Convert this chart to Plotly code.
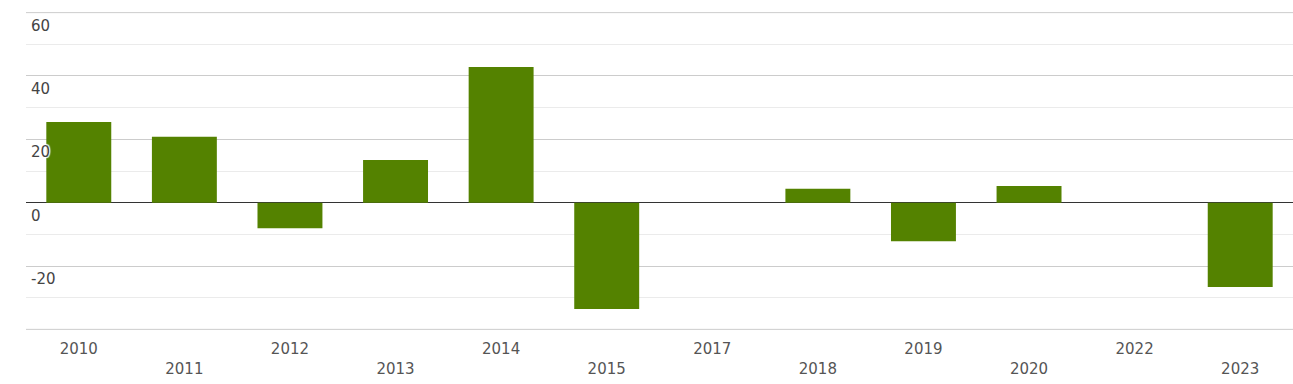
import plotly.graph_objects as go

years = ["2010", "2011", "2012", "2013", "2014", "2015", "2017", "2018", "2019", "2020", "2022", "2023"]
values = [25.5, 20.8, -8.1, 13.5, 42.8, -33.6, None, 4.4, -12.2, 5.3, None, -26.6]
y_ticks = [-20, 0, 20, 40, 60]
y_min, y_max = -40, 60

ticktext = [y if i % 2 == 0 else "<br>" + y for i, y in enumerate(years)]

fig = go.Figure()
fig.add_trace(go.Bar(x=years, y=values, marker=dict(color="#548200", line=dict(width=0)),
                     width=0.615))

for t in y_ticks:
    fig.add_annotation(x=0, xref="paper", y=t, yref="y", text=str(t), showarrow=False,
                       xanchor="left", yanchor="middle", xshift=3, yshift=-13,
                       font=dict(family="DejaVu Sans", size=15, color="#444444",
                                 shadow="1px 1px 1px white, -1px -1px 1px white, 1px -1px 1px white, -1px 1px 1px white"))

for edge in (y_min, y_max):
    fig.add_shape(type="line", xref="paper", x0=0, x1=1, yref="y", y0=edge, y1=edge,
                  line=dict(color="#cccccc", width=1), layer="below")

fig.update_layout(
    width=1293, height=384,
    margin=dict(l=26, r=0, t=12, b=54),
    paper_bgcolor="white", plot_bgcolor="white",
    showlegend=False,
    xaxis=dict(type="category", tickvals=years, ticktext=ticktext, showgrid=False,
               ticks="", tickfont=dict(family="DejaVu Sans", size=15, color="#555555"),
               ticklabelstandoff=8, showline=False, zeroline=False),
    yaxis=dict(range=[y_min - 0.2, y_max + 0.2], tickvals=y_ticks + [y_min], showticklabels=False,
               showgrid=True, gridcolor="#cccccc", gridwidth=1,
               zeroline=True, zerolinecolor="#333333", zerolinewidth=1,
               minor=dict(tickvals=[-30, -10, 10, 30, 50], showgrid=True, gridcolor="#ebebeb", gridwidth=1),
               fixedrange=True),
)

fig.write_html("out.html", config={"displayModeBar": False},
               post_script="document.body.style.margin='0px';")
